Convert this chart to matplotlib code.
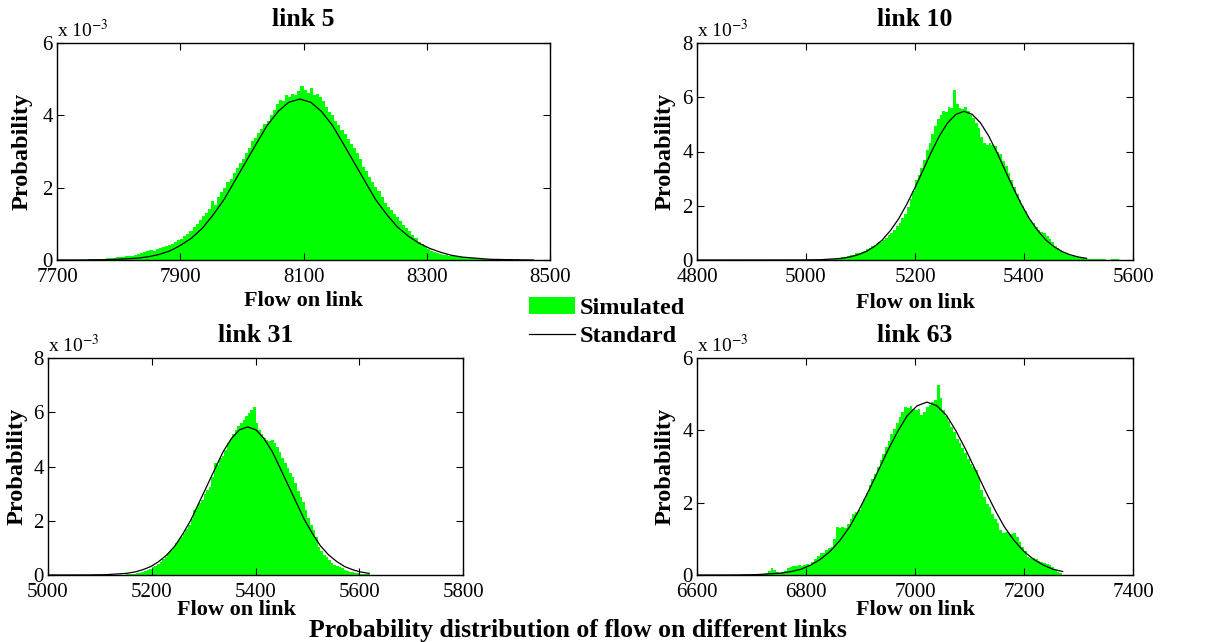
import numpy as np
import matplotlib
matplotlib.use('Agg')
import matplotlib.pyplot as plt

plt.rcParams['font.family'] = ['Liberation Serif', 'DejaVu Serif']
plt.rcParams['mathtext.fontset'] = 'stix'

links = ['link 5', 'link 10', 'link 31', 'link 63']
bin_width = 5
hist_start = [7740, 5020, 5140, 6700]   # left edge of first bin

# simulated probability per bin (x 10^-3)
sim_5 = [0.01, 0.01, 0.02, 0.02, 0.02, 0.03, 0.03, 0.04, 0.05, 0.05, 0.06, 0.07,
         0.08, 0.08, 0.10, 0.11, 0.12, 0.14, 0.16, 0.19, 0.21, 0.24, 0.27, 0.26,
         0.30, 0.34, 0.36, 0.40, 0.41, 0.45, 0.50, 0.55, 0.58, 0.66, 0.72, 0.80,
         0.92, 1.00, 1.10, 1.22, 1.29, 1.40, 1.62, 1.52, 1.75, 1.88, 2.00, 2.16,
         2.25, 2.40, 2.55, 2.67, 2.80, 2.95, 3.10, 3.30, 3.38, 3.50, 3.62, 3.77,
         3.85, 4.00, 4.15, 4.30, 4.42, 4.40, 4.55, 4.51, 4.60, 4.55, 4.68, 4.82,
         4.70, 4.62, 4.75, 4.56, 4.60, 4.50, 4.40, 4.24, 4.10, 4.00, 3.85, 3.72,
         3.60, 3.48, 3.35, 3.22, 3.10, 2.95, 2.80, 2.58, 2.45, 2.30, 2.15, 2.03,
         1.90, 1.75, 1.57, 1.47, 1.38, 1.28, 1.20, 1.08, 0.98, 0.88, 0.80, 0.70,
         0.60, 0.50, 0.44, 0.38, 0.30, 0.26, 0.22, 0.19, 0.17, 0.15, 0.13, 0.12,
         0.11, 0.10, 0.09, 0.08, 0.07, 0.07, 0.06, 0.06, 0.05, 0.05, 0.04, 0.04,
         0.03, 0.03, 0.03, 0.02, 0.02, 0.02, 0.02, 0.02, 0.01, 0.02, 0.01, 0.01,
         0.01, 0.01, 0.01, 0.01]
sim_10 = [0.01, 0.01, 0.02, 0.02, 0.03, 0.03, 0.05, 0.06, 0.08, 0.10, 0.12, 0.14,
          0.17, 0.20, 0.24, 0.27, 0.31, 0.35, 0.40, 0.44, 0.50, 0.55, 0.62, 0.68,
          0.75, 0.82, 0.92, 1.00, 1.12, 1.25, 1.38, 1.55, 1.70, 1.95, 2.25, 2.55,
          2.95, 3.15, 3.40, 3.70, 4.05, 4.30, 4.65, 4.95, 5.20, 5.35, 5.50, 5.45,
          5.65, 5.60, 6.25, 5.75, 5.60, 5.55, 5.65, 5.50, 5.35, 5.25, 5.05, 4.85,
          4.55, 4.30, 4.25, 4.30, 4.25, 4.20, 4.00, 3.90, 3.65, 3.45, 3.20, 2.95,
          2.70, 2.45, 2.20, 2.00, 1.80, 1.62, 1.48, 1.35, 1.22, 1.10, 1.02, 0.98,
          0.90, 0.78, 0.65, 0.52, 0.45, 0.38, 0.30, 0.24, 0.20, 0.16, 0.13, 0.11,
          0.09, 0.07, 0.06, 0.05, 0.04, 0.03, 0.03, 0.02, 0.02, 0.02, 0.01, 0.01,
          0.02, 0.03, 0.02, 0.01, 0.01, 0.01]
sim_31 = [0.01, 0.01, 0.02, 0.02, 0.03, 0.04, 0.06, 0.08, 0.12, 0.14, 0.17, 0.21,
          0.28, 0.33, 0.40, 0.48, 0.58, 0.68, 0.80, 0.92, 1.05, 1.18, 1.30, 1.41,
          1.55, 1.70, 1.85, 2.05, 2.40, 2.50, 2.65, 2.77, 3.00, 3.15, 3.26, 3.60,
          4.12, 4.05, 4.30, 4.37, 4.60, 4.86, 5.00, 5.20, 5.35, 5.50, 5.60, 5.72,
          5.85, 5.97, 6.10, 6.20, 5.60, 5.35, 5.20, 5.05, 4.98, 4.95, 4.98, 4.85,
          4.73, 4.55, 4.30, 4.12, 3.95, 3.75, 3.63, 3.40, 3.10, 2.89, 2.70, 2.40,
          2.10, 1.85, 1.66, 1.40, 1.05, 0.90, 0.75, 0.68, 0.55, 0.45, 0.37, 0.32,
          0.28, 0.25, 0.20, 0.16, 0.12, 0.10, 0.08, 0.06, 0.05, 0.04, 0.03, 0.02]
sim_63 = [0.01, 0.02, 0.03, 0.03, 0.04, 0.05, 0.12, 0.18, 0.15, 0.08, 0.06, 0.08,
          0.12, 0.18, 0.23, 0.25, 0.26, 0.28, 0.26, 0.27, 0.30, 0.28, 0.35, 0.45,
          0.52, 0.60, 0.62, 0.70, 0.75, 0.78, 1.00, 1.34, 1.30, 1.34, 1.29, 1.40,
          1.55, 1.70, 1.75, 1.80, 1.95, 2.10, 2.26, 2.50, 2.65, 2.80, 3.00, 3.18,
          3.35, 3.55, 3.70, 3.90, 4.05, 4.20, 4.37, 4.50, 4.65, 4.62, 4.68, 4.60,
          4.55, 4.60, 4.42, 4.50, 4.65, 4.70, 4.79, 4.85, 5.25, 4.90, 4.56, 4.40,
          4.25, 4.10, 3.95, 3.75, 3.64, 3.50, 3.36, 3.20, 3.08, 3.00, 2.90, 2.70,
          2.35, 2.15, 1.95, 1.89, 1.70, 1.55, 1.43, 1.25, 1.15, 1.18, 1.15, 1.12,
          1.15, 1.05, 0.90, 0.78, 0.65, 0.50, 0.48, 0.46, 0.45, 0.40, 0.35, 0.32,
          0.30, 0.28, 0.22, 0.15, 0.08, 0.05]

# standard curve (x 10^-3)
std_x_5 = [7700, 7742, 7786, 7830, 7848, 7865, 7883, 7900, 7918, 7936, 7953, 7971,
           7988, 8006, 8024, 8041, 8059, 8076, 8094, 8112, 8129, 8147, 8164, 8182,
           8200, 8217, 8235, 8252, 8270, 8288, 8305, 8323, 8340, 8358, 8402, 8446, 8473]
std_y_5 = [0.0, 0.001, 0.010, 0.049, 0.089, 0.15, 0.25, 0.40, 0.60, 0.88, 1.24, 1.67,
           2.17, 2.70, 3.23, 3.72, 4.11, 4.36, 4.45, 4.36, 4.11, 3.72, 3.23, 2.70,
           2.17, 1.67, 1.26, 0.92, 0.66, 0.46, 0.32, 0.21, 0.13, 0.08, 0.02, 0.005, 0.0]
std_x_10 = [4800, 4990, 5028, 5065, 5080, 5095, 5110, 5125, 5140, 5155, 5170, 5185,
            5200, 5215, 5230, 5245, 5260, 5275, 5290, 5305, 5320, 5335, 5350, 5365,
            5380, 5395, 5410, 5425, 5440, 5455, 5470, 5485, 5500, 5515]
std_y_10 = [0.0, 0.002, 0.012, 0.06, 0.11, 0.19, 0.31, 0.49, 0.74, 1.09, 1.52, 2.06,
            2.67, 3.32, 3.98, 4.58, 5.06, 5.37, 5.48, 5.37, 5.06, 4.58, 3.98, 3.32,
            2.67, 2.06, 1.52, 1.09, 0.74, 0.49, 0.31, 0.19, 0.11, 0.06]
std_x_31 = [5000, 5073, 5112, 5151, 5167, 5182, 5198, 5213, 5229, 5245, 5260, 5276,
            5291, 5307, 5323, 5338, 5354, 5369, 5385, 5401, 5416, 5432, 5447, 5463,
            5479, 5494, 5510, 5525, 5541, 5557, 5572, 5588, 5603, 5619]
std_y_31 = [0.0, 0.002, 0.012, 0.06, 0.11, 0.19, 0.31, 0.49, 0.74, 1.08, 1.52, 2.05,
            2.66, 3.31, 3.96, 4.56, 5.04, 5.35, 5.46, 5.35, 5.04, 4.56, 3.96, 3.31,
            2.66, 2.05, 1.52, 1.08, 0.74, 0.49, 0.31, 0.19, 0.11, 0.06]
std_x_63 = [6600, 6666, 6710, 6755, 6773, 6791, 6808, 6826, 6844, 6862, 6880, 6897,
            6915, 6933, 6951, 6969, 6986, 7004, 7022, 7040, 7058, 7075, 7093, 7111,
            7129, 7147, 7164, 7182, 7200, 7218, 7236, 7253, 7271]
std_y_63 = [0.0, 0.001, 0.011, 0.053, 0.096, 0.16, 0.27, 0.43, 0.65, 0.95, 1.33, 1.79,
            2.33, 2.90, 3.47, 3.99, 4.41, 4.68, 4.78, 4.68, 4.41, 3.99, 3.47, 2.90,
            2.33, 1.79, 1.33, 0.95, 0.65, 0.43, 0.27, 0.16, 0.096]

x_lims = [(7700, 8500), (4800, 5600), (5000, 5800), (6600, 7400)]
y_tops = [6, 8, 8, 6]

sims = [sim_5, sim_10, sim_31, sim_63]
std_xs = [std_x_5, std_x_10, std_x_31, std_x_63]
std_ys = [std_y_5, std_y_10, std_y_31, std_y_63]

# axes boxes in pixels (left, top, right, bottom) of a 1230x642 canvas
boxes = [(57, 43, 550, 260), (697, 43, 1133, 260),
         (48, 358, 463, 575), (697, 358, 1133, 575)]
xlab_pos = [(0.5, -0.19), (0.5, -0.198), (0.455, -0.161), (0.5, -0.161)]
ylab_x = [-0.071, -0.073, -0.075, -0.073]

W, H = 1230, 642
fig = plt.figure(figsize=(12.3, 6.42), dpi=100)
green = '#00ff00'

for i in range(4):
    l, t, r, b = boxes[i]
    ax = fig.add_axes([l / W, 1 - b / H, (r - l) / W, (b - t) / H])
    edges = hist_start[i] + bin_width * np.arange(len(sims[i]) + 1)
    bars = ax.stairs(sims[i], edges, fill=True, color=green, linewidth=0,
                     label='Simulated')
    line, = ax.plot(std_xs[i], std_ys[i], color='black', lw=0.9, label='Standard')
    ax.set_xlim(*x_lims[i])
    ax.set_ylim(0, y_tops[i])
    ax.set_xticks(np.arange(x_lims[i][0], x_lims[i][1] + 1, 200))
    ax.set_yticks(np.arange(0, y_tops[i] + 1, 2))
    ax.tick_params(direction='in', top=True, right=True, length=5, width=0.8,
                   labelsize=15)
    ax.tick_params(axis='x', pad=6)
    ax.tick_params(axis='y', pad=3)
    for s in ax.spines.values():
        s.set_linewidth(1.0)
    ax.text(0.5, 1 + 23 / (b - t), links[i], transform=ax.transAxes, ha='center',
            va='center', fontsize=18.5, fontweight='bold')
    ax.text(0.0, 1.01, r'x 10$^{-3}$', transform=ax.transAxes, ha='left',
            va='bottom', fontsize=14)
    ax.set_ylabel('Probability', fontsize=17.5, fontweight='bold')
    ax.yaxis.set_label_coords(ylab_x[i], 0.5)
    ax.yaxis.label.set_verticalalignment('center')
    ax.set_xlabel('Flow on link', fontsize=16, fontweight='bold')
    ax.xaxis.set_label_coords(*xlab_pos[i])
    ax.xaxis.label.set_verticalalignment('center')

fig.legend(handles=[bars, line], labels=['Simulated', 'Standard'],
           loc='upper left', bbox_to_anchor=(529 / W, 1 - 297 / H),
           frameon=False, prop={'weight': 'bold', 'size': 17.5},
           handlelength=1.9, handleheight=0.7, handletextpad=0.2,
           labelspacing=0.25, borderpad=0, borderaxespad=0)

fig.text(578 / W, 1 - 630 / H, 'Probability distribution of flow on different links',
         ha='center', va='center', fontsize=18.5, fontweight='bold')

fig.savefig('out.png', dpi=100)
